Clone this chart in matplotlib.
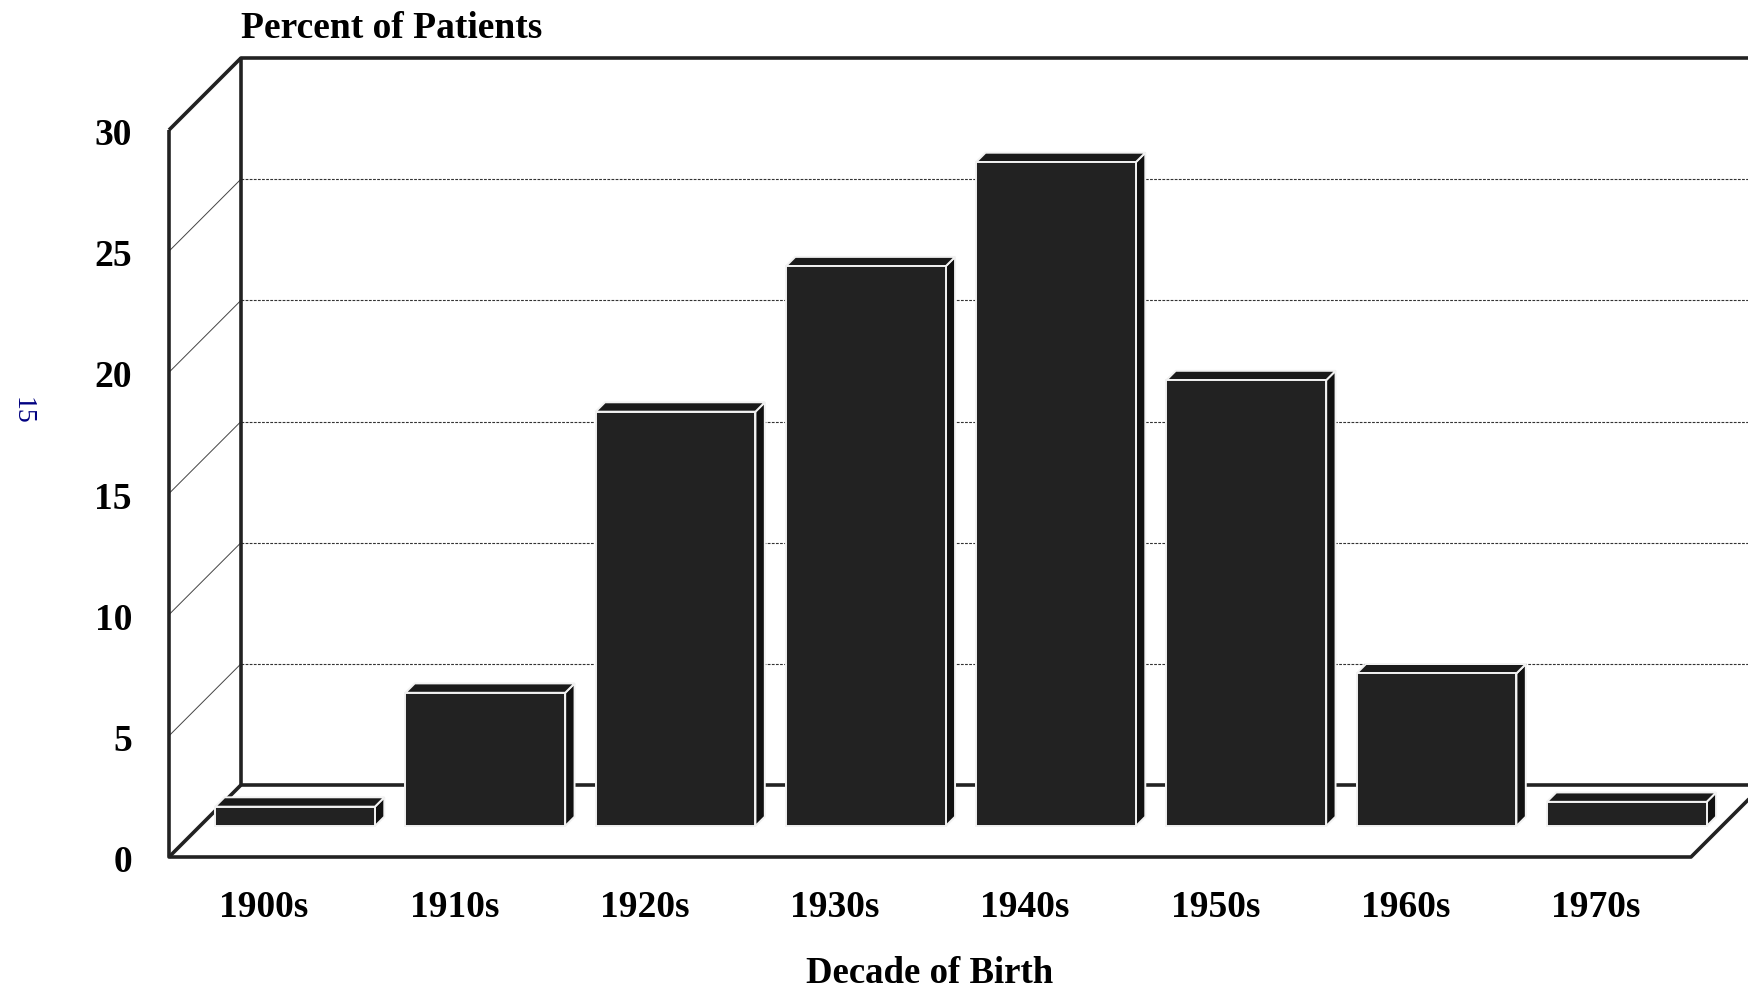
import matplotlib
matplotlib.use("Agg")
import matplotlib.pyplot as plt
from matplotlib.patches import Polygon

# percent of patients by decade of birth
decades = ["1900s", "1910s", "1920s", "1930s", "1940s", "1950s", "1960s", "1970s"]
percents = [0.8, 5.5, 17.1, 23.1, 27.4, 18.4, 6.3, 1.0]
y_ticks = [0, 5, 10, 15, 20, 25, 30]

# oblique projection: one unit of depth shifts by (DX, DY) in data units
DX = 0.378
DY = 2.97
BAR_FRONT = 0.43
BAR_BACK = 0.56
BAR_W = 0.84

plt.rcParams['font.family'] = ['Liberation Serif', 'DejaVu Serif']

fig = plt.figure(figsize=(17.48, 9.89), dpi=100)
# front plane of the box: u in [0, 8], v in [0, 30]
ax = fig.add_axes([169 / 1748, (989 - 857) / 989, 1522 / 1748, 727 / 989])
ax.set_xlim(0, len(decades))
ax.set_ylim(0, 30)
ax.axis('off')

n = len(decades)
ymax = y_ticks[-1]
dark = '#222222'


def proj(u, v, d):
    return u + d * DX, v + d * DY


def line(pts, **kw):
    xs = [p[0] for p in pts]
    ys = [p[1] for p in pts]
    ax.plot(xs, ys, clip_on=False, solid_capstyle='butt', **kw)


# back wall gridlines and side wall diagonals
for t in y_ticks[1:-1]:
    line([proj(0, t, 1), proj(n, t, 1)], color='#333333', lw=0.8,
         linestyle=(0, (2.5, 1.2)), zorder=1)
    line([proj(0, t, 0), proj(0, t, 1)], color='#444444', lw=0.7, zorder=1)

# box frame
line([proj(0, 0, 1), proj(n, 0, 1)], color=dark, lw=2.6, zorder=1)
line([proj(0, 0, 1), proj(0, ymax, 1), proj(n, ymax, 1)], color=dark, lw=2.6, zorder=1)
line([proj(0, 0, 0), proj(0, 0, 1)], color=dark, lw=2.6, zorder=1)
line([proj(0, ymax, 0), proj(0, ymax, 1)], color=dark, lw=2.6, zorder=1)
line([proj(0, ymax, 0), proj(0, 0, 0), proj(n, 0, 0), proj(n, 0, 1)],
     color=dark, lw=2.6, zorder=3)

# bars as front / top / side faces
for i, val in enumerate(percents):
    x0 = i + (1 - BAR_W) / 2
    x1 = x0 + BAR_W
    front = [proj(x0, 0, BAR_FRONT), proj(x1, 0, BAR_FRONT),
             proj(x1, val, BAR_FRONT), proj(x0, val, BAR_FRONT)]
    top = [proj(x0, val, BAR_FRONT), proj(x1, val, BAR_FRONT),
           proj(x1, val, BAR_BACK), proj(x0, val, BAR_BACK)]
    side = [proj(x1, 0, BAR_FRONT), proj(x1, val, BAR_FRONT),
            proj(x1, val, BAR_BACK), proj(x1, 0, BAR_BACK)]
    for pts, fc in [(side, '#111111'), (top, '#1a1a1a'), (front, dark)]:
        ax.add_patch(Polygon(pts, closed=True, facecolor=fc, edgecolor='#f2f2f2',
                             lw=1.4, joinstyle='miter', clip_on=False, zorder=4))

bold = dict(fontweight='bold', color='black', fontsize=27)

for t in y_ticks:
    ax.text(-0.195, t - 0.23, str(t), ha='right', va='center', **bold)

for i, name in enumerate(decades):
    ax.text(i + 0.5, -2.08, name, ha='center', va='center', **bold)

ax.text(DX, 34.2, "Percent of Patients", ha='left', va='center', **bold)
ax.text(n / 2, -4.8, "Decade of Birth", ha='center', va='center',
        fontweight='bold', color='black', fontsize=26.5)

fig.text(22 / 1748, 1 - 411 / 989, "15", rotation=270, ha='center', va='center',
         color='#000080', fontsize=20)

fig.savefig("out.png", dpi=100)
